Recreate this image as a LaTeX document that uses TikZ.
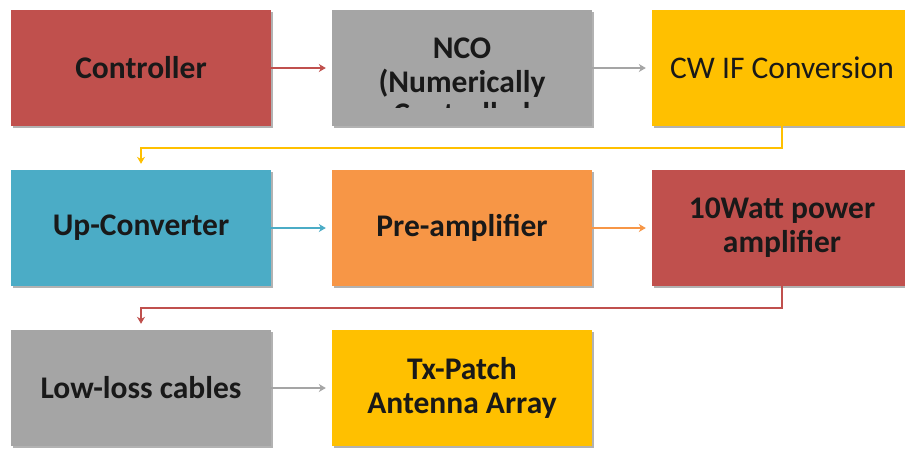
\documentclass[tikz,border=0pt]{standalone}
\usepackage{fontspec}
\setmainfont{Carlito}
\usepackage{xcolor}
\usetikzlibrary{arrows.meta,shadows}

\definecolor{boxred}{HTML}{C0504D}
\definecolor{boxgray}{HTML}{A5A5A5}
\definecolor{boxyellow}{HTML}{FFC000}
\definecolor{boxblue}{HTML}{4BACC6}
\definecolor{boxorange}{HTML}{F79646}

\tikzset{
  block/.style={fill=#1, minimum width=260pt, minimum height=116pt, inner sep=0pt,
    align=center, font=\fontsize{31.5}{34}\selectfont\bfseries, text=black!90,
    drop shadow={shadow xshift=1.5pt, shadow yshift=-2pt, opacity=.3, fill=black}},
  flow/.style={draw=#1, line width=1.5pt, -{Stealth[length=7pt,width=8pt]}, shorten >=6pt}
}

\begin{document}
\begin{tikzpicture}[x=1pt,y=-1pt]

\clip (0,0) rectangle (905,448);
\fill[white] (0,0) rectangle (905,448);

% 1st row:
\node[block=boxred] (ctrl) at (141,68) {Controller};
\node[block=boxgray] (nco) at (462,68) {NCO\\(Numerically};
\node[block=boxyellow, font=\fontsize{31.5}{34}\selectfont] (cwif) at (782,68) {CW IF Conversion};

% cut-off third line of the NCO box
\begin{scope}
\clip (332,94) rectangle (592,107);
\node[anchor=base, inner sep=0pt, font=\fontsize{31.5}{34}\selectfont\bfseries, text=black!90] (ncocut) at (462,124) {Controlled};
\end{scope}

% 2nd row:
\node[block=boxblue] (upconv) at (141,228) {Up-Converter};
\node[block=boxorange] (preamp) at (462,228) {Pre-amplifier};
\node[block=boxred] (pa) at (782,228) {10Watt power\\amplifier};

% 3rd row:
\node[block=boxgray] (cable) at (141,388) {Low-loss cables};
\node[block=boxyellow] (antenna) at (462,388) {Tx-Patch\\Antenna Array};

\coordinate (bendA) at (782,148);
\coordinate (bendB) at (782,308);

\draw[flow=boxred] (ctrl) -- (nco);
\draw[flow=boxgray] (nco) -- (cwif);
\draw[flow=boxyellow] (cwif.south) -- (bendA) -| (upconv.north);
\draw[flow=boxblue] (upconv) -- (preamp);
\draw[flow=boxorange] (preamp) -- (pa);
\draw[flow=boxred] (pa.south) -- (bendB) -| (cable.north);
\draw[flow=boxgray] (cable) -- (antenna);

\end{tikzpicture}
\end{document}
